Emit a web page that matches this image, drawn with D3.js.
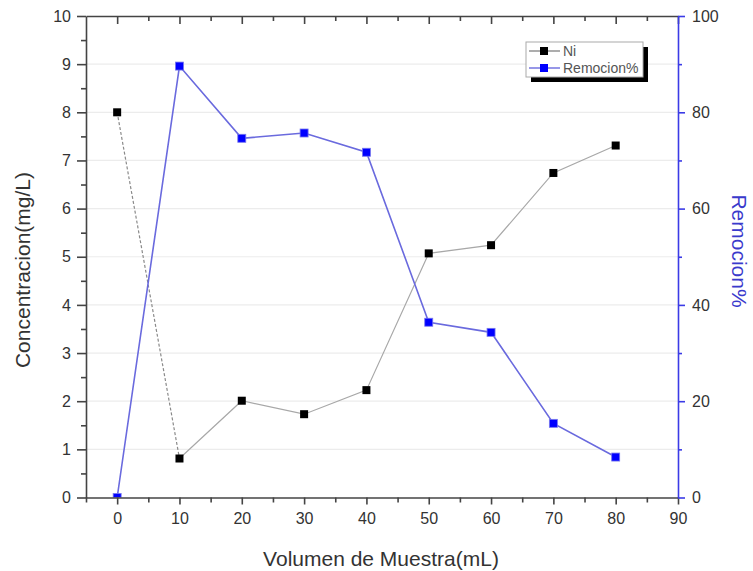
<!DOCTYPE html>
<html>
<head>
<meta charset="utf-8">
<script src="https://cdn.jsdelivr.net/npm/d3@7"></script>
<style>
  body { margin: 0; background: #fff; }
  svg { display: block; font-family: "Liberation Sans", Arial, sans-serif; }
</style>
</head>
<body>
<svg id="chart" width="753" height="571"></svg>
<script>
// ---- data ----
const volumes = [0, 10, 20, 30, 40, 50, 60, 70, 80];
const niValues = [8.0, 0.81, 2.01, 1.73, 2.23, 5.07, 5.24, 6.74, 7.31];
const remocionValues = [0, 89.6, 74.6, 75.7, 71.7, 36.4, 34.3, 15.4, 8.4];
const xTicks = [0, 10, 20, 30, 40, 50, 60, 70, 80, 90];
const yLeftTicks = [0, 1, 2, 3, 4, 5, 6, 7, 8, 9, 10];
const yRightTicks = [0, 20, 40, 60, 80, 100];
const seriesNames = ["Ni", "Remocion%"];

// ---- layout ----
const W = 753, H = 571;
const m = { left: 86, right: 75, top: 16, bottom: 73.5 };
const pw = W - m.left - m.right, ph = H - m.top - m.bottom;

const svg = d3.select("#chart");
const g = svg.append("g").attr("transform", `translate(${m.left},${m.top})`);

const x = d3.scaleLinear().domain([-5, 90]).range([0, pw]);
const yL = d3.scaleLinear().domain([0, 10]).range([ph, 0]);
const yR = d3.scaleLinear().domain([0, 100]).range([ph, 0]);

const axisGray = "#444";
const blueAxis = "#3b3be6";

// gridlines
g.append("g").selectAll("line").data(yLeftTicks.slice(1, -1)).join("line")
  .attr("x1", 0).attr("x2", pw)
  .attr("y1", d => yL(d)).attr("y2", d => yL(d))
  .attr("stroke", "#ececec").attr("stroke-width", 1.2);

// clip
svg.append("defs").append("clipPath").attr("id", "clip")
  .append("rect").attr("width", pw).attr("height", ph);
const plot = g.append("g").attr("clip-path", "url(#clip)");

// Ni line (first segment dashed)
const lineNi = d3.line().x((d, i) => x(volumes[i])).y(d => yL(d));
const niPts = niValues.map((v, i) => ({ v, i }));
const lineNiObj = d3.line().x(d => x(volumes[d.i])).y(d => yL(d.v));
plot.append("path").datum(niPts.slice(0, 2))
  .attr("d", lineNiObj).attr("fill", "none")
  .attr("stroke", "#8a8a8a").attr("stroke-width", 1.2).attr("stroke-dasharray", "3,2");
plot.append("path").datum(niPts.slice(1))
  .attr("d", lineNiObj).attr("fill", "none")
  .attr("stroke", "#a8a8a8").attr("stroke-width", 1.2);

// Remocion line
const lineR = d3.line().x((d, i) => x(volumes[i])).y(d => yR(d));
plot.append("path").datum(remocionValues)
  .attr("d", lineR).attr("fill", "none")
  .attr("stroke", "#6a6ade").attr("stroke-width", 1.6);

// markers
const ms = 8;
plot.append("g").selectAll("rect").data(niValues).join("rect")
  .attr("x", (d, i) => x(volumes[i]) - ms / 2).attr("y", d => yL(d) - ms / 2)
  .attr("width", ms).attr("height", ms).attr("fill", "#000");
plot.append("g").selectAll("rect").data(remocionValues).join("rect")
  .attr("x", (d, i) => x(volumes[i]) - ms / 2).attr("y", d => yR(d) - ms / 2)
  .attr("width", ms).attr("height", ms).attr("fill", "#0000ff")
  .attr("stroke", "#7777ee").attr("stroke-width", 0.8);

// ---- axes ----
function styleAxis(sel, color, width) {
  sel.select(".domain").attr("stroke", color).attr("stroke-width", width);
  sel.selectAll(".tick line").attr("stroke", color).attr("stroke-width", width);
  sel.selectAll(".tick text").attr("fill", "#333").style("font-size", "16px");
}
const minor = (ticks) => d3.pairs(ticks).map(([a, b]) => (a + b) / 2);

// bottom
const gb = g.append("g").attr("transform", `translate(0,${ph})`);
gb.call(d3.axisBottom(x).tickValues(xTicks).tickSize(7).tickPadding(8).tickSizeOuter(0));
styleAxis(gb, axisGray, 1.6);
const gbm = g.append("g").attr("transform", `translate(0,${ph})`);
gbm.call(d3.axisBottom(x).tickValues([-5, ...minor(xTicks)]).tickSize(5).tickFormat("").tickSizeOuter(0));
styleAxis(gbm, axisGray, 1.6); gbm.select(".domain").remove();

// top
const gt = g.append("g");
gt.call(d3.axisBottom(x).tickValues(xTicks).tickSize(8).tickFormat("").tickSizeOuter(0));
styleAxis(gt, axisGray, 1.6);
const gtm = g.append("g");
gtm.call(d3.axisBottom(x).tickValues(minor(xTicks)).tickSize(5).tickFormat("").tickSizeOuter(0));
styleAxis(gtm, axisGray, 1.6); gtm.select(".domain").remove();

// left
const gl = g.append("g");
gl.call(d3.axisLeft(yL).tickValues(yLeftTicks).tickSize(9).tickPadding(6).tickSizeOuter(0));
styleAxis(gl, axisGray, 1.6);
const glm = g.append("g");
glm.call(d3.axisLeft(yL).tickValues(minor(yLeftTicks)).tickSize(5).tickFormat("").tickSizeOuter(0));
styleAxis(glm, axisGray, 1.6); glm.select(".domain").remove();

// right
const gr = g.append("g").attr("transform", `translate(${pw},0)`);
gr.call(d3.axisRight(yR).tickValues(yRightTicks).tickSize(7).tickPadding(7).tickSizeOuter(0));
styleAxis(gr, blueAxis, 1.6);
const grm = g.append("g").attr("transform", `translate(${pw},0)`);
grm.call(d3.axisRight(yR).tickValues(minor(yRightTicks)).tickSize(4).tickFormat("").tickSizeOuter(0));
styleAxis(grm, blueAxis, 1.6); grm.select(".domain").remove();

// ---- titles ----
svg.append("text").attr("x", 381).attr("y", 566).attr("text-anchor", "middle")
  .attr("fill", "#333").style("font-size", "21px").text("Volumen de Muestra(mL)");
svg.append("text").attr("transform", "translate(30,270) rotate(-90)").attr("text-anchor", "middle")
  .attr("fill", "#333").style("font-size", "21px").text("Concentracion(mg/L)");
svg.append("text").attr("transform", "translate(732,251) rotate(90)").attr("text-anchor", "middle")
  .attr("fill", "#3a3acc").style("font-size", "21px").text("Remocion%");

// ---- legend ----
const lg = svg.append("g").attr("transform", "translate(526,42)");
lg.append("rect").attr("x", 5).attr("y", 5).attr("width", 117).attr("height", 35).attr("fill", "#000");
lg.append("rect").attr("x", 0).attr("y", 0).attr("width", 117).attr("height", 35)
  .attr("fill", "#fff").attr("stroke", "#aaa").attr("stroke-width", 1);
const legendColors = [{ line: "#8a8a8a", mark: "#000" }, { line: "#6a6ade", mark: "#0000ff" }];
seriesNames.forEach((name, i) => {
  const yy = 9 + i * 17;
  lg.append("line").attr("x1", 3).attr("x2", 34).attr("y1", yy).attr("y2", yy)
    .attr("stroke", legendColors[i].line).attr("stroke-width", 1.4);
  lg.append("rect").attr("x", 18 - 4).attr("y", yy - 4).attr("width", 8).attr("height", 8)
    .attr("fill", legendColors[i].mark);
  lg.append("text").attr("x", 37).attr("y", yy).attr("dy", "0.35em")
    .attr("fill", "#555").style("font-size", "14px").text(name);
});
</script>
</body>
</html>
